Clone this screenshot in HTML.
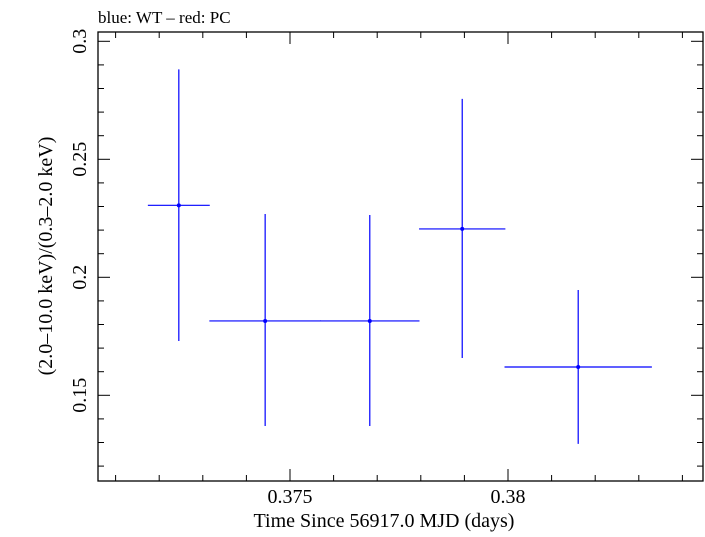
<!DOCTYPE html>
<html><head><meta charset="utf-8"><style>
body{margin:0;background:#fff;}
svg text{font-family:"Liberation Serif",serif;fill:#000;}
</style></head><body>
<svg id="chart" width="705" height="532" viewBox="0 0 705 532" xmlns="http://www.w3.org/2000/svg">
<text x="98" y="23" font-size="17">blue: WT – red: PC</text>
<rect x="98" y="32" width="605" height="449" fill="none" stroke="#000" stroke-width="1.3"/>
<g id="ticks"></g>
<g id="marks"></g>
<text x="384" y="527" font-size="20" text-anchor="middle">Time Since 56917.0 MJD (days)</text>
<text transform="translate(52,256) rotate(-90)" font-size="20" text-anchor="middle">(2.0–10.0 keV)/(0.3–2.0 keV)</text>
</svg>
<script>
const times=[0.37245,0.37443,0.37683,0.37895,0.38161];
const timeErr=[0.00071,0.00128,0.00114,0.00099,0.00169];
const ratios=[0.2305,0.1815,0.1815,0.2205,0.1620];
const ratioHi=[0.2881,0.2268,0.2264,0.2756,0.1946];
const ratioLo=[0.1730,0.1370,0.1370,0.1658,0.1294];
const xTickVals=[0.375,0.38];
const xTickLabels=["0.375","0.38"];
const yTickVals=[0.15,0.2,0.25,0.3];
const yTickLabels=["0.15","0.2","0.25","0.3"];
const NS="http://www.w3.org/2000/svg";
const L=98,R=703,T=32,B=481;
function xs(v){return 290+(v-0.375)*43600;}
function ys(v){return 41.3+(0.3-v)*2360;}
function mk(tag,attrs,parent){const e=document.createElementNS(NS,tag);for(const k in attrs)e.setAttribute(k,attrs[k]);parent.appendChild(e);return e;}
const tg=document.getElementById('ticks');
for(let i=0;i<=20;i++){const v=0.370+i*0.001;const x=xs(v);if(x<L||x>R)continue;
 const major=Math.abs((v*1000)%5)<1e-6||Math.abs((v*1000)%5-5)<1e-6;const len=major?12:6;
 const t1=mk('line',{x1:x,x2:x,y1:B,y2:B-len,stroke:'#000','stroke-width':1},tg);
 
 const t2=mk('line',{x1:x,x2:x,y1:T,y2:T+len,stroke:'#000','stroke-width':1},tg);
 }
xTickVals.forEach((v,i)=>{const t=mk('text',{x:xs(v),y:503,'font-size':20,'text-anchor':'middle'},tg);t.textContent=xTickLabels[i];
 });
for(let i=0;i<=25;i++){const v=0.10+i*0.01;const y=ys(v);if(y<T||y>B)continue;
 const major=i%5===0;const len=major?12:6;
 const t1=mk('line',{x1:L,x2:L+len,y1:y,y2:y,stroke:'#000','stroke-width':1},tg);
 
 const t2=mk('line',{x1:R,x2:R-len,y1:y,y2:y,stroke:'#000','stroke-width':1},tg);
 }
yTickVals.forEach((v,i)=>{const y=ys(v);const t=mk('text',{x:0,y:0,'font-size':20,'text-anchor':'middle',transform:`translate(86,${y}) rotate(-90)`},tg);t.textContent=yTickLabels[i];
 });
const mg=document.getElementById('marks');
times.forEach((t,i)=>{const g=mk('g',{},mg);
 
 mk('line',{x1:xs(t-timeErr[i]),x2:xs(t+timeErr[i]),y1:ys(ratios[i]),y2:ys(ratios[i]),stroke:'#0000ff','stroke-width':1.2},g);
 mk('line',{x1:xs(t),x2:xs(t),y1:ys(ratioHi[i]),y2:ys(ratioLo[i]),stroke:'#0000ff','stroke-width':1.2},g);
 mk('circle',{cx:xs(t),cy:ys(ratios[i]),r:2,fill:'#0000ff'},g);});
</script>
</body></html>
